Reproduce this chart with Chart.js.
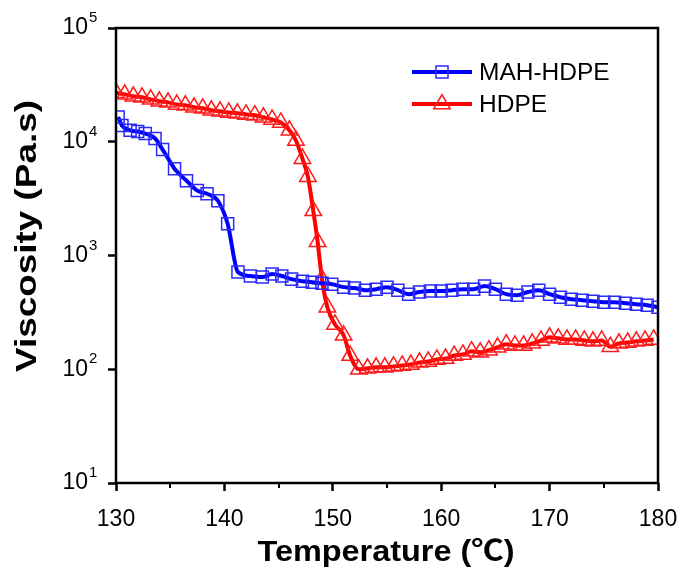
<!DOCTYPE html>
<html>
<head>
<meta charset="utf-8">
<script src="https://cdn.jsdelivr.net/npm/chart.js@4.4.1/dist/chart.umd.min.js"></script>
<style>
  html, body { margin: 0; padding: 0; background: #fff; }
  #wrap { width: 682px; height: 573px; }
</style>
</head>
<body>
<div id="wrap"><canvas id="visc" width="682" height="573"></canvas></div>
<script>
// MAH-HDPE: temperature (°C) and viscosity (Pa.s)
const tempMah = [130.2, 130.55, 131.3, 132.0, 132.7, 133.6, 134.3, 135.4, 136.5, 137.5, 138.4, 139.4, 140.3, 141.25,
  142.4, 143.5, 144.4, 145.3, 146.2, 147.2, 148.1, 149.0, 149.9, 151, 152, 153, 154, 155, 156, 157, 158, 159, 160,
  161, 162, 163, 164, 165, 166, 167, 168, 169, 170, 171, 172, 173, 174, 175, 176, 177, 178, 179, 180];
const viscMah = [16500, 13900, 12600, 12300, 11800, 10700, 8550, 5800, 4550, 3720, 3490, 3030, 1900, 715,
  660, 646, 687, 660, 620, 595, 583, 570, 560, 527, 517, 496, 506, 527, 496, 457, 477, 487, 487,
  496, 506, 506, 538, 506, 457, 448, 477, 496, 457, 430, 413, 405, 397, 389, 389, 381, 373, 366, 351];

// HDPE
const tempHdpe = [130.0, 130.8, 131.6, 132.4, 133.2, 134.0, 134.8, 135.6, 136.4, 137.2, 138.0, 138.8, 139.6, 140.4,
  141.2, 142.0, 142.8, 143.6, 144.4, 145.2, 146.0, 146.6, 147.2, 147.7, 148.2, 148.6, 149.0, 149.5, 150.2, 151.0,
  151.6, 152.4, 153.2, 154.0, 154.8, 155.6, 156.4, 157.2, 158.0, 158.8, 159.6, 160.4, 161.2, 162.0, 162.8, 163.6,
  164.4, 165.2, 166.0, 166.8, 167.6, 168.4, 169.2, 170.0, 170.8, 171.6, 172.4, 173.2, 174.0, 174.8, 175.6, 176.4,
  177.2, 178.0, 178.8, 179.6];
const viscHdpe = [27000, 26100, 25100, 24600, 23600, 22700, 22200, 21300, 20900, 20100, 19700, 18900, 18500, 18100,
  17800, 17400, 17100, 16400, 15700, 14800, 12600, 10250, 7100, 4930, 2470, 1320, 620, 351, 248, 199,
  132, 100, 102, 104, 104, 106, 108, 110, 115, 117, 122, 124, 132, 135, 144, 141,
  147, 156, 166, 162, 162, 169, 179, 191, 187, 183, 183, 179, 176, 179, 158, 169,
  172, 176, 179, 183];

const xTicks = [130, 140, 150, 160, 170, 180];
const yTicks = [10, 100, 1000, 10000, 100000];
const yExponents = ['1', '2', '3', '4', '5'];
const xTitle = 'Temperature (℃)';
const yTitle = 'Viscosity (Pa.s)';

const FONT = 'Arial, "Liberation Sans", "Noto Sans CJK SC", sans-serif';

const pts = (xs, ys) => xs.map((x, i) => ({ x: x, y: ys[i] }));

// text squeezed/stretched along its own direction to a given length
function wideText(ctx, text, cx, cy, len, rot) {
  ctx.save();
  ctx.translate(cx, cy);
  ctx.rotate(rot);
  const w = ctx.measureText(text).width;
  ctx.scale(len / w, 1);
  ctx.textAlign = 'center';
  ctx.textBaseline = 'middle';
  ctx.fillText(text, 0, 0);
  ctx.restore();
}

// frame, minor ticks, exponents, titles and legend
const extras = {
  id: 'extras',
  afterDraw(chart) {
    const ctx = chart.ctx;
    const a = chart.chartArea;
    const xs = chart.scales.x, ys = chart.scales.y;
    ctx.save();
    ctx.strokeStyle = '#000';
    ctx.lineWidth = 2.5;
    ctx.strokeRect(a.left, a.top, a.right - a.left, a.bottom - a.top);

    // minor x ticks
    ctx.lineWidth = 2;
    for (let t = 135; t < 180; t += 10) {
      const px = Math.round(xs.getPixelForValue(t));
      ctx.beginPath();
      ctx.moveTo(px, a.bottom);
      ctx.lineTo(px, a.bottom + 5);
      ctx.stroke();
    }

    // exponents of y labels
    ctx.fillStyle = '#000';
    ctx.font = '15px ' + FONT;
    ctx.textAlign = 'left';
    ctx.textBaseline = 'middle';
    yTicks.forEach((v, i) => {
      const py = ys.getPixelForValue(v);
      ctx.fillText(yExponents[i], a.left - 27, py - 10);
    });

    // axis titles
    ctx.font = 'bold 29px ' + FONT;
    wideText(ctx, xTitle, 386, 553, 257, 0);
    ctx.font = 'bold 30px ' + FONT;
    wideText(ctx, yTitle, 28, 236, 272, -Math.PI / 2);

    // legend
    const rows = [
      { ds: chart.data.datasets[0], y: 72 },
      { ds: chart.data.datasets[1], y: 104 }
    ];
    rows.forEach(r => {
      ctx.strokeStyle = r.ds.borderColor;
      ctx.lineWidth = 4;
      ctx.beginPath();
      ctx.moveTo(412, r.y);
      ctx.lineTo(472, r.y);
      ctx.stroke();
      ctx.lineWidth = 1.5;
      ctx.strokeStyle = r.ds.pointBorderColor;
      ctx.fillStyle = 'rgba(0,0,0,0)';
      Chart.helpers.drawPoint(ctx, {
        pointStyle: r.ds.pointStyle,
        radius: r.ds.pointRadius,
        borderWidth: 1.5
      }, 442, r.y);
      ctx.fillStyle = '#000';
      ctx.font = '24.5px ' + FONT;
      ctx.textAlign = 'left';
      ctx.textBaseline = 'middle';
      ctx.fillText(r.ds.label, 479, r.y + 1);
    });
    ctx.restore();
  }
};

new Chart(document.getElementById('visc'), {
  type: 'line',
  data: {
    datasets: [{
      label: 'MAH-HDPE',
      data: pts(tempMah, viscMah),
      borderColor: '#0000ff',
      backgroundColor: 'rgba(0,0,0,0)',
      borderWidth: 4,
      pointStyle: 'rect',
      pointRadius: 8.5,
      pointBorderWidth: 1.5,
      pointBorderColor: '#2a2aff',
      cubicInterpolationMode: 'monotone'
    }, {
      label: 'HDPE',
      data: pts(tempHdpe, viscHdpe),
      borderColor: '#ff0000',
      backgroundColor: 'rgba(0,0,0,0)',
      borderWidth: 4,
      pointStyle: 'triangle',
      pointRadius: 9.5,
      pointBorderWidth: 1.5,
      pointBorderColor: '#ff1a1a',
      cubicInterpolationMode: 'monotone'
    }]
  },
  options: {
    responsive: false,
    animation: false,
    layout: { padding: { top: 28, right: 24, left: 0, bottom: 0 } },
    plugins: { legend: { display: false }, tooltip: { enabled: false } },
    scales: {
      x: {
        type: 'linear',
        min: 130,
        max: 180,
        afterBuildTicks: s => { s.ticks = xTicks.map(v => ({ value: v })); },
        afterFit: s => { s.height = 90; s.paddingLeft = 0; s.paddingRight = 0; },
        grid: { drawOnChartArea: false, tickLength: 8, tickWidth: 2.5, tickColor: '#000' },
        border: { display: false },
        ticks: { color: '#000', font: { family: FONT, size: 23 }, padding: 15, maxRotation: 0 },
        title: { display: false }
      },
      y: {
        type: 'logarithmic',
        min: 10,
        max: 100000,
        afterBuildTicks: s => { s.ticks = yTicks.map(v => ({ value: v })); },
        afterFit: s => { s.width = 116; s.paddingTop = 0; s.paddingBottom = 0; },
        grid: { drawOnChartArea: false, tickLength: 8, tickWidth: 2.5, tickColor: '#000' },
        border: { display: false },
        ticks: { color: '#000', font: { family: FONT, size: 23 }, padding: 20, callback: () => '10' },
        title: { display: false }
      }
    }
  },
  plugins: [extras]
});
</script>
</body>
</html>
